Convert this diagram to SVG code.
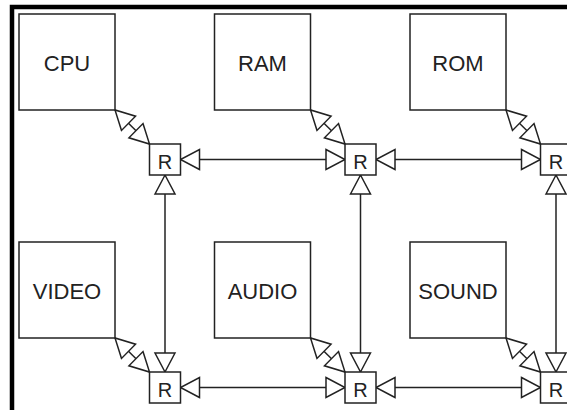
<svg xmlns="http://www.w3.org/2000/svg" width="567" height="410" viewBox="0 0 567 410">
<style>
.box{fill:#fff;stroke:#222;stroke-width:1.5}
.lbl{font-family:"Liberation Sans",Arial,sans-serif;font-size:22px;fill:#222;text-anchor:middle}
.r{font-family:"Liberation Sans",Arial,sans-serif;font-size:20px;fill:#222;text-anchor:middle}
.c{fill:none;stroke:#222;stroke-width:1.5;marker-start:url(#tri);marker-end:url(#tri)}
</style>
<defs>
<marker id="tri" viewBox="-2 -2 24 24" refX="19.5" refY="10" markerWidth="24" markerHeight="24" markerUnits="userSpaceOnUse" orient="auto-start-reverse">
<path d="M0.5,0 L19.5,10 L0.5,20 Z" fill="#fff" stroke="#222" stroke-width="1.5" stroke-linejoin="miter"/>
</marker>
</defs>
<rect x="0" y="0" width="567" height="410" fill="#fff"/>
<rect x="12" y="7" width="600" height="450" fill="none" stroke="#000" stroke-width="4.5"/>
<g id="connectors">
<path class="c" d="M115,110 L149.5,144"/>
<path class="c" d="M310.5,110 L345,144"/>
<path class="c" d="M506,110 L540.5,144"/>
<path class="c" d="M115,338 L149.5,372"/>
<path class="c" d="M310.5,338 L345,372"/>
<path class="c" d="M506,338 L540.5,372"/>
<path class="c" d="M180.5,159.5 L345,159.5"/>
<path class="c" d="M376,159.5 L540.5,159.5"/>
<path class="c" d="M180.5,387.5 L345,387.5"/>
<path class="c" d="M376,387.5 L540.5,387.5"/>
<path class="c" d="M165,175 L165,372"/>
<path class="c" d="M360.5,175 L360.5,372"/>
<path class="c" d="M556,175 L556,372"/>
</g>
<g id="cpu"><rect class="box" x="19" y="14" width="96" height="96"/><text class="lbl" x="67" y="70.5">CPU</text></g>
<g id="ram"><rect class="box" x="214.5" y="14" width="96" height="96"/><text class="lbl" x="262.5" y="70.5">RAM</text></g>
<g id="rom"><rect class="box" x="410" y="14" width="96" height="96"/><text class="lbl" x="458" y="70.5">ROM</text></g>
<g id="video"><rect class="box" x="19" y="242" width="96" height="96"/><text class="lbl" x="67" y="298.5">VIDEO</text></g>
<g id="audio"><rect class="box" x="214.5" y="242" width="96" height="96"/><text class="lbl" x="262.5" y="298.5">AUDIO</text></g>
<g id="sound"><rect class="box" x="410" y="242" width="96" height="96"/><text class="lbl" x="458" y="298.5">SOUND</text></g>
<g id="r1"><rect class="box" x="149.5" y="144" width="31" height="31"/><text class="r" x="165" y="168.5">R</text></g>
<g id="r2"><rect class="box" x="345" y="144" width="31" height="31"/><text class="r" x="360.5" y="168.5">R</text></g>
<g id="r3"><rect class="box" x="540.5" y="144" width="31" height="31"/><text class="r" x="556" y="168.5">R</text></g>
<g id="r4"><rect class="box" x="149.5" y="372" width="31" height="31"/><text class="r" x="165" y="396.5">R</text></g>
<g id="r5"><rect class="box" x="345" y="372" width="31" height="31"/><text class="r" x="360.5" y="396.5">R</text></g>
<g id="r6"><rect class="box" x="540.5" y="372" width="31" height="31"/><text class="r" x="556" y="396.5">R</text></g>
</svg>
